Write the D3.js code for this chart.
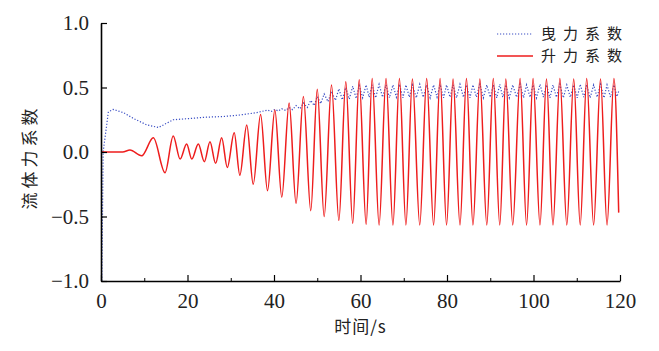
<!DOCTYPE html>
<html>
<head>
<meta charset="utf-8">
<script src="https://cdn.jsdelivr.net/npm/d3@7"></script>
<style>
  body { margin: 0; background: #fff; }
</style>
</head>
<body>
<svg id="chart"></svg>
<script>
// lift coefficient: extrema (time, value)
const liftTime = [0, 5.0, 6.7, 9.4, 12.1, 14.8, 16.7, 18.3, 19.8, 21.0, 22.5, 23.9, 25.2, 26.5, 27.9, 29.2,
  30.8, 32.1, 33.7, 35.2, 36.9, 38.5, 40.2, 41.8, 43.5, 45.1, 46.8, 48.5, 50.0, 51.6, 53.3, 55.0, 56.6,
  58.2, 59.7, 61.3, 62.7, 64.3, 65.9, 67.5, 69.0, 70.5, 72.0, 73.7, 75.3, 76.9, 78.4, 79.9, 81.4, 83.0,
  84.5, 86.0, 87.6, 89.2, 90.7, 92.2, 93.6, 95.2, 96.9, 98.4, 99.9, 101.5, 103.0, 104.5, 106.1, 107.7,
  109.3, 110.8, 112.3, 113.9, 115.5, 117.0, 118.6, 119.7];
const liftValue = [0, 0, 0.015, -0.03, 0.11, -0.16, 0.124, -0.055, 0.062, -0.055, 0.062, -0.075, 0.08, -0.088, 0.11, -0.12,
  0.15, -0.18, 0.21, -0.25, 0.29, -0.30, 0.325, -0.35, 0.38, -0.40, 0.43, -0.455, 0.486, -0.50, 0.52, -0.53, 0.545,
  -0.553, 0.56, -0.56, 0.57, -0.565, 0.57, -0.565, 0.57, -0.565, 0.565, -0.565, 0.57, -0.565, 0.57, -0.565, 0.565, -0.565,
  0.57, -0.565, 0.565, -0.565, 0.57, -0.565, 0.565, -0.565, 0.57, -0.565, 0.57, -0.565, 0.565, -0.565, 0.57, -0.565,
  0.565, -0.565, 0.57, -0.565, 0.565, -0.565, 0.57, -0.47];

// drag coefficient (time, value)
const dragTime = [0, 0.15, 0.5, 1.7, 2.8, 5.2, 7.5, 10.6, 13.3, 16.7, 20.6, 24.4, 28.3, 32.1, 36.0,
  38.5, 39.4, 40.2, 41.0, 41.8, 42.7, 43.5, 44.3, 45.1, 46.0, 46.8, 47.7, 48.5, 49.3, 50.0, 50.8,
  51.6, 52.5, 53.3, 54.2, 55.0, 55.8, 56.6, 57.4, 58.2, 59.0, 59.7, 60.5, 61.3, 62.0, 62.7, 63.5,
  64.3, 65.1, 65.9, 66.7, 67.5, 68.3, 69.0, 69.8, 70.5, 71.3, 72.0, 72.9, 73.7, 74.5, 75.3, 76.1,
  76.9, 77.7, 78.4, 79.2, 79.9, 80.7, 81.4, 82.2, 83.0, 83.8, 84.5, 85.3, 86.0, 86.8, 87.6, 88.4,
  89.2, 90.0, 90.7, 91.5, 92.2, 92.9, 93.6, 94.4, 95.2, 96.1, 96.9, 97.7, 98.4, 99.2, 99.9, 100.7,
  101.5, 102.3, 103.0, 103.8, 104.5, 105.3, 106.1, 106.9, 107.7, 108.5, 109.3, 110.1, 110.8, 111.6,
  112.3, 113.1, 113.9, 114.7, 115.5, 116.3, 117.0, 117.8, 118.6, 119.3, 119.7];
const dragValue = [1.1, -1.1, 0.0, 0.31, 0.33, 0.305, 0.26, 0.21, 0.19, 0.25, 0.26, 0.27, 0.275, 0.287, 0.305,
  0.325, 0.315, 0.33, 0.318, 0.335, 0.322, 0.345, 0.328, 0.36, 0.335, 0.38, 0.345, 0.40, 0.36, 0.43, 0.375,
  0.45, 0.39, 0.47, 0.40, 0.49, 0.405, 0.50, 0.41, 0.51, 0.415, 0.515, 0.42, 0.52, 0.425, 0.52, 0.42,
  0.525, 0.425, 0.52, 0.42, 0.52, 0.425, 0.525, 0.42, 0.52, 0.425, 0.52, 0.42, 0.525, 0.425, 0.52, 0.42,
  0.52, 0.425, 0.525, 0.42, 0.52, 0.425, 0.52, 0.42, 0.525, 0.425, 0.52, 0.42, 0.52, 0.425, 0.525, 0.42,
  0.52, 0.425, 0.52, 0.42, 0.525, 0.425, 0.52, 0.42, 0.52, 0.425, 0.525, 0.42, 0.52, 0.425, 0.52, 0.42,
  0.525, 0.425, 0.52, 0.42, 0.52, 0.425, 0.525, 0.42, 0.52, 0.425, 0.52, 0.42, 0.525, 0.425,
  0.52, 0.42, 0.52, 0.425, 0.525, 0.42, 0.52, 0.425, 0.52, 0.43, 0.47];

const xTicks = [0, 20, 40, 60, 80, 100, 120];
const xMinorTicks = [10, 30, 50, 70, 90, 110];
const yTicks = [-1.0, -0.5, 0.0, 0.5, 1.0];
const seriesNames = ["曳力系数", "升力系数"];
const axisTitles = ["时间/s", "流体力系数"];

const svgWidth = 659, svgHeight = 351;
const margin = { top: 23, right: 39, bottom: 70, left: 101 };
const width = svgWidth - margin.left - margin.right;
const height = svgHeight - margin.top - margin.bottom;

const dragColor = "#3a4ec4";
const liftColor = "#ee1d1d";
const numFont = "'Liberation Serif', 'Times New Roman', serif";
const cjkFont = "'Noto Sans CJK SC', sans-serif";

let svg = d3.select("#chart")
  .attr("width", svgWidth)
  .attr("height", svgHeight);

let g = svg.append("g")
  .attr("transform", "translate(" + margin.left + "," + margin.top + ")");

let x = d3.scaleLinear().domain([0, 120]).range([0, width]);
let y = d3.scaleLinear().domain([-1, 1]).range([height, 0]);

g.append("clipPath")
  .attr("id", "plotclip")
  .append("rect")
  .attr("width", width)
  .attr("height", height);

// lines
const liftData = liftTime.map((t, i) => [t, liftValue[i]]);
const dragData = dragTime.map((t, i) => [t, dragValue[i]]);

let line = d3.line()
  .x(d => x(d[0]))
  .y(d => y(d[1]))
  .curve(d3.curveMonotoneX);

g.append("path")
  .datum(dragData)
  .attr("clip-path", "url(#plotclip)")
  .attr("fill", "none")
  .attr("stroke", dragColor)
  .attr("stroke-width", 1.2)
  .attr("stroke-dasharray", "1.2,1.8")
  .attr("d", d3.line().x(d => x(d[0])).y(d => y(d[1])));

g.append("path")
  .datum(liftData)
  .attr("clip-path", "url(#plotclip)")
  .attr("fill", "none")
  .attr("stroke", liftColor)
  .attr("stroke-width", 1.5)
  .attr("d", line);

// axes, ticks point inward
let xAxis = g.append("g")
  .attr("transform", "translate(0," + height + ")")
  .call(d3.axisBottom(x).tickValues(xTicks).tickSizeInner(-6).tickSizeOuter(0).tickPadding(12).tickFormat(d3.format("d")));
xAxis.selectAll(".tick line").attr("stroke-width", 1.2);

g.append("g")
  .attr("transform", "translate(0," + height + ")")
  .call(d3.axisBottom(x).tickValues(xMinorTicks).tickSize(-3).tickFormat(""))
  .select(".domain").remove();

let yAxis = g.append("g")
  .call(d3.axisLeft(y).tickValues(yTicks).tickSizeInner(-6).tickSizeOuter(0).tickPadding(12)
    .tickFormat(d => d3.format(".1f")(d).replace("-", "\u2212")));
yAxis.selectAll(".tick line").attr("stroke-width", 1.2);

g.selectAll(".domain").attr("stroke-width", 1.6);
g.selectAll(".tick text")
  .style("font-family", numFont)
  .style("font-size", "21px")
  .attr("fill", "#222");

// axis titles
svg.append("text")
  .attr("x", margin.left + width / 2)
  .attr("y", 333)
  .attr("text-anchor", "middle")
  .style("font-family", cjkFont)
  .style("font-size", "17px")
  .style("letter-spacing", "1px")
  .attr("fill", "#222")
  .text(axisTitles[0]);

svg.append("text")
  .attr("transform", "translate(36,157) rotate(-90)")
  .attr("text-anchor", "middle")
  .style("font-family", cjkFont)
  .style("font-size", "17px")
  .style("letter-spacing", "4px")
  .attr("fill", "#222")
  .text(axisTitles[1]);

// legend
let legend = svg.append("g").attr("transform", "translate(497,34)");
const legendStyles = [
  { color: dragColor, dash: "1.2,1.8", w: 1.2 },
  { color: liftColor, dash: null, w: 1.5 }
];
seriesNames.forEach((name, i) => {
  let row = legend.append("g").attr("transform", "translate(0," + i * 22 + ")");
  row.append("line")
    .attr("x1", 0).attr("x2", 36)
    .attr("stroke", legendStyles[i].color)
    .attr("stroke-width", legendStyles[i].w)
    .attr("stroke-dasharray", legendStyles[i].dash);
  row.append("text")
    .attr("x", 44)
    .attr("dy", "0.35em")
    .style("font-family", cjkFont)
    .style("font-size", "15px")
    .style("letter-spacing", "7px")
    .attr("fill", "#222")
    .text(name);
});
</script>
</body>
</html>
